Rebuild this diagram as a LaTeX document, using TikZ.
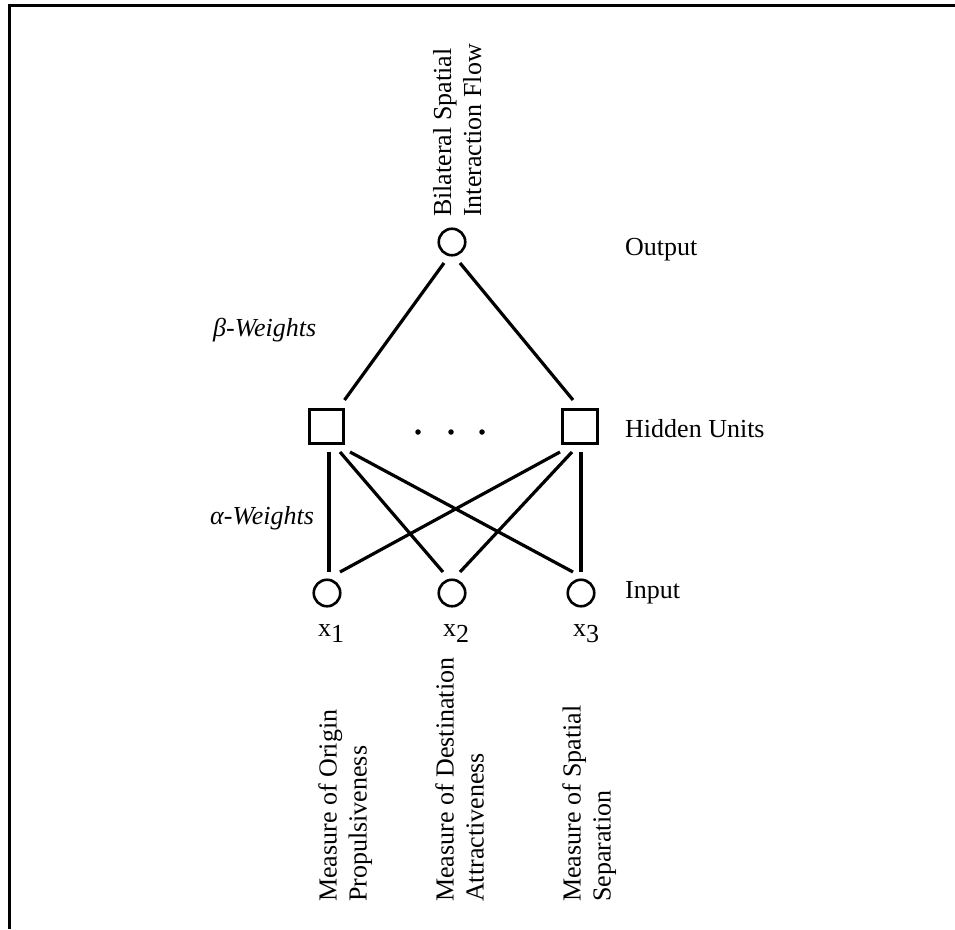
\documentclass[tikz,border=0pt]{standalone}
\usepackage{fontspec}
\setmainfont{Liberation Serif}
\begin{document}
\begin{tikzpicture}[x=1pt,y=-1pt,
  neuron/.style={circle,draw,line width=2.6pt,minimum size=26.5pt,inner sep=0pt},
  hidden/.style={rectangle,draw,line width=2.6pt,minimum size=34.5pt,inner sep=0pt},
  link/.style={line width=3.2pt},
  lbl/.style={inner sep=0pt,font=\fontsize{26}{30}\selectfont},
  vlbl/.style={lbl,rotate=90,anchor=north west,align=left},
  dot/.style={circle,fill,inner sep=0pt,minimum size=5.5pt}]
\useasboundingbox (0,0) rectangle (955,929);
% frame
\draw[line width=3pt] (9.5,929) -- (9.5,5.3) -- (955,5.3);
% nodes
\node[neuron] (out) at (452,242) {};
\node[hidden] (h1) at (326.5,426.5) {};
\node[hidden] (h2) at (580,426.5) {};
\node[neuron] (i1) at (327,593) {};
\node[neuron] (i2) at (452,593) {};
\node[neuron] (i3) at (581,593) {};
\node[dot] (d1) at (418,432) {};
\node[dot] (d2) at (451,432) {};
\node[dot] (d3) at (482,432) {};
% beta connectors
\draw[link] ([shift={(-8,21)}]out.center) -- ([shift={(18,-26.5)}]h1.center);
\draw[link] ([shift={(8,21)}]out.center) -- ([shift={(-7,-26.5)}]h2.center);
% alpha connectors
\draw[link] ([shift={(2.5,25.5)}]h1.center) -- ([shift={(2,-21)}]i1.center);
\draw[link] ([shift={(13.5,25.5)}]h1.center) -- ([shift={(-9,-21)}]i2.center);
\draw[link] ([shift={(23.5,25.5)}]h1.center) -- ([shift={(-8,-21)}]i3.center);
\draw[link] ([shift={(-20,25.5)}]h2.center) -- ([shift={(13,-21)}]i1.center);
\draw[link] ([shift={(-8,25.5)}]h2.center) -- ([shift={(8,-21)}]i2.center);
\draw[link] ([shift={(1,25.5)}]h2.center) -- ([shift={(0,-21)}]i3.center);
% layer labels
\node[lbl,anchor=base west] (lout) at (625,255) {Output};
\node[lbl,anchor=base west] (lhid) at (625,437) {Hidden Units};
\node[lbl,anchor=base west] (lin) at (625,598) {Input};
\node[lbl,anchor=base west] (lbeta) at (213,336) {\itshape β-Weights};
\node[lbl,anchor=base west] (lalpha) at (210,524) {\itshape α-Weights};
% input symbols
\node[lbl,anchor=base west] (x1) at (318,636) {x\raisebox{-6pt}{1}};
\node[lbl,anchor=base west] (x2) at (443,636) {x\raisebox{-6pt}{2}};
\node[lbl,anchor=base west] (x3) at (573,636) {x\raisebox{-6pt}{3}};
% rotated descriptions
\node[vlbl] (tout) at (433,217) {Bilateral Spatial\\Interaction Flow};
\node[vlbl] (t1) at (318,902) {Measure of Origin\\Propulsiveness};
\node[vlbl] (t2) at (435,902) {Measure of Destination\\Attractiveness};
\node[vlbl] (t3) at (562,902) {Measure of Spatial\\Separation};
\end{tikzpicture}
\end{document}
